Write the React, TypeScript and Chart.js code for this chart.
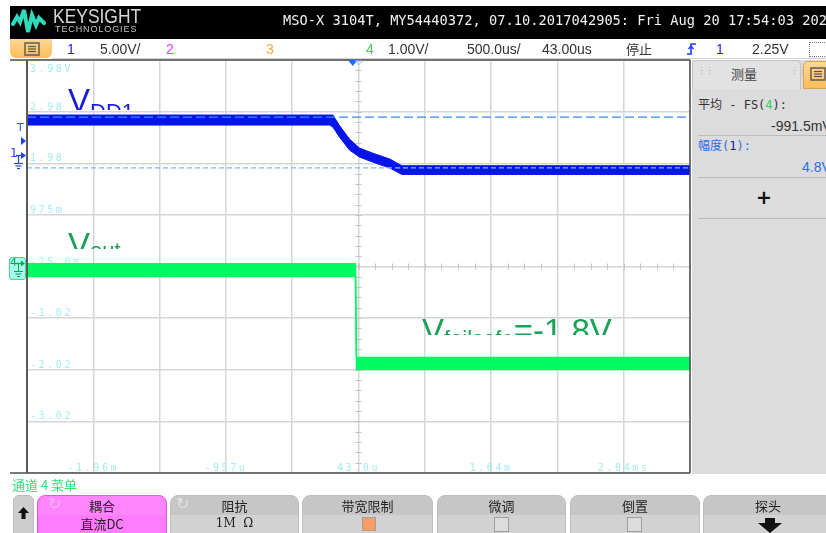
import React, { useEffect, useRef } from "react";
import { Chart, registerables } from "chart.js";

Chart.register(...registerables);

// ---- scope settings ----
const TIME_CENTER_US = 43;
const TIME_PER_DIV_US = 500;
const CH4_VOLTS_PER_DIV = 1;
const CH4_CENTER_V = -0.025;
const CH1_VOLTS_PER_DIV = 5;
const CH1_CENTER_V = -9.56;
const TRIGGER_TIME_US = 0;

// ---- channel 1 (VDD1) noise envelope, volts ----
const ch1Time = [-2457, -175, -150, -100, -25, 50, 150, 280, 370, 2543];
const ch1Upper = [5.11, 5.11, 5.11, 4.09, 2.78, 1.91, 1.42, 0.84, 0.2, 0.2];
const ch1Lower = [4.14, 4.14, 3.94, 2.97, 1.72, 1.04, 0.55, -0.03, -0.64, -0.64];

// ---- channel 4 (Vout) noise envelope, volts ----
const ch4Time = [-2457, 20, 28, 2543];
const ch4Upper = [0.03, 0.03, -1.79, -1.79];
const ch4Lower = [-0.22, -0.22, -2.02, -2.02];

// ---- amplitude measurement markers (ch1, volts) ----
const ch1MeasTop = [4.9];
const ch1MeasBase = [0];

// ---- on-screen tick labels ----
const yTickLabels = ["3.98V", "2.98", "1.98", "975m", "-25.0m", "-1.02", "-2.02", "-3.02"];
const xTickLabels = ["-1.96m", "-957u", "43.0u", "1.04m", "2.04ms"];

const X_MIN = TIME_CENTER_US - 5 * TIME_PER_DIV_US;
const X_MAX = TIME_CENTER_US + 5 * TIME_PER_DIV_US;
const Y_MIN = CH4_CENTER_V - 4 * CH4_VOLTS_PER_DIV;
const Y_MAX = CH4_CENTER_V + 4 * CH4_VOLTS_PER_DIV;
const Y1_MIN = CH1_CENTER_V - 4 * CH1_VOLTS_PER_DIV;
const Y1_MAX = CH1_CENTER_V + 4 * CH1_VOLTS_PER_DIV;

const BLUE = "#0514e8";
const GREEN = "#00fa64";
const LABEL_COLOR = "#a4eef0";
const GRID = "#d6d6d6";

const pts = (ts: number[], vs: number[]) => ts.map((t, i) => ({ x: t, y: vs[i] }));

const scopePlugin = {
  id: "scope",
  beforeDatasetsDraw(chart: any) {
    const { ctx, chartArea: a, scales } = chart;
    const xs = scales.x;
    const ys = scales.y;
    ctx.save();
    // minor ticks on centre axes
    const yc = ys.getPixelForValue(CH4_CENTER_V);
    const xc = xs.getPixelForValue(TIME_CENTER_US);
    ctx.strokeStyle = "#c2c2c2";
    ctx.lineWidth = 1;
    ctx.beginPath();
    for (let t = X_MIN; t <= X_MAX + 1; t += TIME_PER_DIV_US / 4) {
      const px = Math.round(xs.getPixelForValue(t)) + 0.5;
      ctx.moveTo(px, yc - 3);
      ctx.lineTo(px, yc + 3);
    }
    for (let v = Y_MIN; v <= Y_MAX + 0.01; v += CH4_VOLTS_PER_DIV / 5) {
      const py = Math.round(ys.getPixelForValue(v)) + 0.5;
      ctx.moveTo(xc - 3, py);
      ctx.lineTo(xc + 3, py);
    }
    ctx.stroke();
    // labels
    ctx.font = "10px 'DejaVu Sans Mono', monospace";
    (ctx as any).letterSpacing = "2.6px";
    ctx.fillStyle = LABEL_COLOR;
    ctx.textBaseline = "alphabetic";
    ctx.textAlign = "left";
    yTickLabels.forEach((lab, i) => {
      const py = ys.getPixelForValue(Y_MAX - i * CH4_VOLTS_PER_DIV);
      ctx.fillText(lab, a.left + 3, i === 0 ? py + 11.5 : py - 2);
    });
    ctx.textAlign = "center";
    xTickLabels.forEach((lab, i) => {
      const px = xs.getPixelForValue(X_MIN + (2 * i + 1) * TIME_PER_DIV_US);
      ctx.fillText(lab, px, a.bottom - 2);
    });
    ctx.restore();
  },
  afterDraw(chart: any) {
    const { ctx, chartArea: a, scales } = chart;
    const xs = scales.x;
    ctx.save();
    ctx.strokeStyle = "#4e4e4e";
    ctx.lineWidth = 1.5;
    ctx.beginPath();
    ctx.moveTo(a.left - 17, a.top);
    ctx.lineTo(a.right, a.top);
    ctx.moveTo(a.left - 17, a.bottom);
    ctx.lineTo(a.right, a.bottom);
    ctx.moveTo(a.right, a.top);
    ctx.lineTo(a.right, a.bottom);
    ctx.stroke();
    ctx.lineWidth = 2;
    ctx.strokeStyle = "#5a5a5a";
    ctx.beginPath();
    ctx.moveTo(a.left, a.top);
    ctx.lineTo(a.left, a.bottom);
    ctx.stroke();
    // trigger position marker
    const pt = xs.getPixelForValue(TRIGGER_TIME_US);
    ctx.fillStyle = "#1e6cff";
    ctx.beginPath();
    ctx.moveTo(pt - 5, a.top);
    ctx.lineTo(pt + 5, a.top);
    ctx.lineTo(pt, a.top + 6);
    ctx.closePath();
    ctx.fill();
    const pc = xs.getPixelForValue(TIME_CENTER_US);
    ctx.strokeStyle = "#9cc4ff";
    ctx.lineWidth = 1;
    ctx.beginPath();
    ctx.moveTo(pc - 3, a.top + 1);
    ctx.lineTo(pc + 4, a.top + 1);
    ctx.lineTo(pc, a.top + 5);
    ctx.closePath();
    ctx.stroke();
    ctx.restore();
  },
};

const cjk = "'Noto Sans CJK SC', sans-serif";
const narrow = "'Liberation Sans Narrow', 'Liberation Sans', Arial, sans-serif";

function BigLabel(props: {
  left: number; top: number; height: number; color: string;
  main: string; sub: string; shift: number; suffix?: string;
}) {
  return (
    <div
      style={{
        position: "absolute", left: props.left, top: props.top, height: props.height,
        overflow: "hidden", whiteSpace: "nowrap", color: props.color,
        fontFamily: "'Liberation Sans', Arial, sans-serif", fontSize: 33, lineHeight: "33px",
      }}
    >
      {props.main}
      <span style={{ fontSize: 22, position: "relative", top: props.shift }}>{props.sub}</span>
      {props.suffix}
    </div>
  );
}

function MenuIcon(props: { left: number; top: number }) {
  return (
    <svg style={{ position: "absolute", left: props.left, top: props.top }} width={16} height={14}>
      <rect x={1} y={1} width={14} height={12} fill="none" stroke="#555" strokeWidth={1.4} />
      <line x1={4} y1={4.5} x2={12} y2={4.5} stroke="#555" strokeWidth={1.2} />
      <line x1={4} y1={7} x2={12} y2={7} stroke="#555" strokeWidth={1.2} />
      <line x1={4} y1={9.5} x2={12} y2={9.5} stroke="#555" strokeWidth={1.2} />
    </svg>
  );
}

function SoftButton(props: { left: number; width: number; label: string; magenta?: boolean; children?: any }) {
  const bg = props.magenta
    ? "linear-gradient(#ff86ff 0%, #ff86ff 45%, #ff7cff 45%, #ff7cff 100%)"
    : "linear-gradient(#c6c6c6 0%, #c6c6c6 45%, #d2d2d2 45%, #d2d2d2 100%)";
  return (
    <div
      style={{
        position: "absolute", left: props.left, top: 495, width: props.width, height: 44,
        background: bg, borderRadius: "8px 8px 0 0",
        border: props.magenta ? "1px solid #e454e4" : "1px solid #bdbdbd",
        boxSizing: "border-box",
      }}
    >
      <div style={{ position: "absolute", left: 0, right: 0, top: 1, textAlign: "center", fontFamily: cjk, fontSize: 13, lineHeight: "17px", color: "#222" }}>
        {props.label}
      </div>
      {props.children}
    </div>
  );
}

export default function App() {
  const ref = useRef<HTMLCanvasElement>(null);

  useEffect(() => {
    const chart = new Chart(ref.current as HTMLCanvasElement, {
      type: "line",
      data: {
        datasets: [
          { label: "ch1 upper", data: pts(ch1Time, ch1Upper), yAxisID: "y1", borderColor: BLUE, borderWidth: 1, pointRadius: 0, fill: false, tension: 0, order: 2 },
          { label: "ch1 lower", data: pts(ch1Time, ch1Lower), yAxisID: "y1", borderColor: BLUE, backgroundColor: BLUE, borderWidth: 1, pointRadius: 0, fill: "-1", tension: 0, order: 2 },
          { label: "ch4 upper", data: pts(ch4Time, ch4Upper), yAxisID: "y", borderColor: GREEN, borderWidth: 1.5, pointRadius: 0, fill: false, tension: 0, order: 2 },
          { label: "ch4 lower", data: pts(ch4Time, ch4Lower), yAxisID: "y", borderColor: GREEN, backgroundColor: GREEN, borderWidth: 1.5, pointRadius: 0, fill: "-1", tension: 0, order: 2 },
          { label: "top", data: [{ x: X_MIN, y: ch1MeasTop[0] }, { x: X_MAX, y: ch1MeasTop[0] }], yAxisID: "y1", borderColor: "#3a86ff", borderWidth: 1.2, borderDash: [9, 4], pointRadius: 0, fill: false, order: 0 },
          { label: "base", data: [{ x: X_MIN, y: ch1MeasBase[0] }, { x: X_MAX, y: ch1MeasBase[0] }], yAxisID: "y1", borderColor: "#86b4ff", borderWidth: 1.2, borderDash: [5, 3], pointRadius: 0, fill: false, order: 0 },
        ],
      },
      options: {
        animation: false,
        responsive: false,
        layout: { padding: { left: 27, top: 60, right: 136, bottom: 60 } },
        plugins: { legend: { display: false }, tooltip: { enabled: false } },
        scales: {
          x: {
            type: "linear", min: X_MIN, max: X_MAX,
            afterBuildTicks: (s: any) => {
              s.ticks = Array.from({ length: 11 }, (_, i) => ({ value: X_MIN + i * TIME_PER_DIV_US }));
            },
            ticks: { display: false },
            grid: { color: GRID, lineWidth: 1.5, drawTicks: false },
            border: { display: false },
          },
          y: {
            type: "linear", min: Y_MIN, max: Y_MAX,
            afterBuildTicks: (s: any) => {
              s.ticks = Array.from({ length: 9 }, (_, i) => ({ value: Y_MIN + i * CH4_VOLTS_PER_DIV }));
            },
            ticks: { display: false },
            grid: { color: GRID, lineWidth: 1.5, drawTicks: false },
            border: { display: false },
          },
          y1: { type: "linear", min: Y1_MIN, max: Y1_MAX, display: false },
        },
      } as any,
      plugins: [scopePlugin],
    });
    return () => chart.destroy();
  }, []);

  const statusItems: { x: number; t: string; c: string; f?: string }[] = [
    { x: 67, t: "1", c: "#1a1aff" },
    { x: 100, t: "5.00V/", c: "#333" },
    { x: 166, t: "2", c: "#e040ff" },
    { x: 266, t: "3", c: "#e8a848" },
    { x: 366, t: "4", c: "#30d060" },
    { x: 388, t: "1.00V/", c: "#333" },
    { x: 467, t: "500.0us/", c: "#333" },
    { x: 542, t: "43.00us", c: "#333" },
    { x: 626, t: "停止", c: "#333", f: cjk },
    { x: 716, t: "1", c: "#1a1aff" },
    { x: 752, t: "2.25V", c: "#333" },
  ];

  return (
    <div style={{ position: "fixed", left: 0, top: 0, width: 826, height: 533, overflow: "hidden", background: "#fff" }}>
      <canvas ref={ref} width={826} height={533} style={{ position: "absolute", left: 0, top: 0, width: 826, height: 533 }} />

      {/* header */}
      <div style={{ position: "absolute", left: 10, top: 6, width: 816, height: 33, background: "#000" }} />
      <svg style={{ position: "absolute", left: 11, top: 7 }} width={38} height={28}>
        <polyline points="2,17 6,10 9,15 13,3 17,25 21,8 25,18 28,11 33,16" fill="none" stroke="#2ddcbc" strokeWidth={4} strokeLinejoin="miter" strokeLinecap="round" />
      </svg>
      <div style={{ position: "absolute", left: 53, top: 5, fontFamily: "'Liberation Sans', Arial, sans-serif", fontSize: 21, lineHeight: "21px", color: "#d6d6d6", transform: "scaleX(0.83)", transformOrigin: "left top", whiteSpace: "nowrap" }}>
        KEYSIGHT
      </div>
      <div style={{ position: "absolute", left: 55, top: 24, fontFamily: "'Liberation Sans', Arial, sans-serif", fontSize: 9, lineHeight: "10px", color: "#c4c4c4", letterSpacing: 0.9, whiteSpace: "nowrap" }}>
        TECHNOLOGIES
      </div>
      <div style={{ position: "absolute", left: 283, top: 12, fontFamily: "'DejaVu Sans Mono', monospace", fontSize: 13.7, lineHeight: "16px", color: "#f2f2f2", whiteSpace: "nowrap" }}>
        MSO-X 3104T, MY54440372, 07.10.2017042905: Fri Aug 20 17:54:03 2021
      </div>

      {/* status row */}
      <div style={{ position: "absolute", left: 10, top: 39, width: 42, height: 19, background: "linear-gradient(#ffd894, #ffbd5a)", borderRadius: "0 0 6px 6px" }} />
      <MenuIcon left={24} top={42} />
      {statusItems.map((s, i) => (
        <div key={i} style={{ position: "absolute", left: s.x, top: 40, fontFamily: s.f || narrow, fontSize: s.f ? 13 : 14, lineHeight: "18px", color: s.c, whiteSpace: "nowrap" }}>
          {s.t}
        </div>
      ))}
      <svg style={{ position: "absolute", left: 686, top: 41 }} width={12} height={16}>
        <polyline points="1,13 5,13 5,3 10,3" fill="none" stroke="#1a3cff" strokeWidth={1.6} />
        <polyline points="2.5,8 5,5 7.5,8" fill="none" stroke="#1a3cff" strokeWidth={1.4} />
      </svg>
      <div style={{ position: "absolute", left: 809, top: 42, width: 20, height: 13, border: "1px dotted #777" }} />
      <div style={{ position: "absolute", left: 52, top: 58, width: 774, height: 1, background: "#d4d4d4" }} />

      {/* left channel markers */}
      <div style={{ position: "absolute", left: 17, top: 121, fontFamily: "'DejaVu Sans', sans-serif", fontSize: 11, color: "#2a58ff" }}>T</div>
      <svg style={{ position: "absolute", left: 0, top: 100 }} width={27} height={80}>
        <polygon points="21,37 26,41 21,45" fill="#1a44ff" />
        <line x1={16} y1={55.5} x2={22} y2={55.5} stroke="#2244ee" strokeWidth={1.3} />
        <polygon points="21,52 26,55.5 21,59" fill="#2244ee" />
        <line x1={18.5} y1={55} x2={18.5} y2={63} stroke="#2244ee" strokeWidth={1.2} />
        <line x1={14} y1={63.5} x2={23} y2={63.5} stroke="#2244ee" strokeWidth={1.2} />
        <line x1={15.5} y1={66} x2={21.5} y2={66} stroke="#2244ee" strokeWidth={1.2} />
        <line x1={17} y1={68.5} x2={20} y2={68.5} stroke="#2244ee" strokeWidth={1.2} />
      </svg>
      <div style={{ position: "absolute", left: 10, top: 147, fontFamily: "'DejaVu Sans', sans-serif", fontSize: 12, lineHeight: "13px", color: "#2244ee" }}>1</div>

      <div style={{ position: "absolute", left: 9, top: 257, width: 17, height: 23, background: "#a6fff0", border: "1px solid #3de07a", borderRadius: 3, boxSizing: "border-box" }} />
      <svg style={{ position: "absolute", left: 9, top: 257 }} width={18} height={24}>
        <line x1={7} y1={6.5} x2={13} y2={6.5} stroke="#1c9c52" strokeWidth={1.3} />
        <polygon points="12,3.5 16,6.5 12,9.5" fill="#1c9c52" />
        <line x1={9.5} y1={7} x2={9.5} y2={14} stroke="#1c9c52" strokeWidth={1.1} />
        <line x1={5} y1={14.5} x2={14} y2={14.5} stroke="#1c9c52" strokeWidth={1.1} />
        <line x1={6.5} y1={17} x2={12.5} y2={17} stroke="#1c9c52" strokeWidth={1.1} />
        <line x1={8} y1={19.5} x2={11} y2={19.5} stroke="#1c9c52" strokeWidth={1.1} />
      </svg>
      <div style={{ position: "absolute", left: 10, top: 256, fontFamily: "'DejaVu Sans', sans-serif", fontSize: 11, lineHeight: "13px", color: "#1c9c52" }}>4</div>

      {/* annotation texts */}
      <BigLabel left={68} top={83.7} height={26.3} color="#1a1ad8" main="V" sub="DD1" shift={7} />
      <BigLabel left={68} top={227.7} height={21.3} color="#17a257" main="V" sub="out" shift={2} />
      <BigLabel left={422} top={313.7} height={21.3} color="#17a257" main="V" sub="failsafe" shift={4.3} suffix="=-1.8V" />

      {/* right measurement panel */}
      <div style={{ position: "absolute", left: 692, top: 60, width: 134, height: 414, background: "#dcdcdc" }} />
      <div style={{ position: "absolute", left: 692, top: 60, width: 109, height: 29, background: "#e2e2e2", border: "1px solid #c2c2c2", borderBottom: "none", borderRadius: "5px 5px 0 0", boxSizing: "border-box" }} />
      <div style={{ position: "absolute", left: 697, top: 67, fontSize: 9, lineHeight: "9px", color: "#a8a8a8", letterSpacing: -1 }}>⋮⋮</div>
      <div style={{ position: "absolute", left: 790, top: 67, fontSize: 9, lineHeight: "9px", color: "#a8a8a8", letterSpacing: -1 }}>⋮⋮</div>
      <div style={{ position: "absolute", left: 731, top: 65, fontFamily: cjk, fontSize: 13, lineHeight: "18px", color: "#444" }}>测量</div>
      <div style={{ position: "absolute", left: 803, top: 61, width: 25, height: 28, background: "linear-gradient(#ffd894, #ffbd5a)", borderRadius: "5px 0 0 0", border: "1px solid #d9a050", boxSizing: "border-box" }} />
      <MenuIcon left={810} top={67} />
      <div style={{ position: "absolute", left: 698, top: 96, fontFamily: "'DejaVu Sans Mono', " + cjk, fontSize: 12, lineHeight: "18px", color: "#333", whiteSpace: "nowrap" }}>
        平均 - FS(<span style={{ color: "#30d060" }}>4</span>):
      </div>
      <div style={{ position: "absolute", left: 771, top: 117, fontFamily: "'Liberation Sans', Arial, sans-serif", fontSize: 14, lineHeight: "18px", color: "#333", whiteSpace: "nowrap" }}>-991.5mV</div>
      <div style={{ position: "absolute", left: 698, top: 135, width: 128, height: 1, background: "#bcbcbc" }} />
      <div style={{ position: "absolute", left: 698, top: 137, fontFamily: "'DejaVu Sans Mono', " + cjk, fontSize: 12, lineHeight: "18px", color: "#2a6ee8", whiteSpace: "nowrap" }}>
        幅度(<span style={{ color: "#1414c8" }}>1</span>):
      </div>
      <div style={{ position: "absolute", left: 802, top: 158, fontFamily: "'Liberation Sans', Arial, sans-serif", fontSize: 14, lineHeight: "18px", color: "#2a6ee8", whiteSpace: "nowrap" }}>4.8V</div>
      <div style={{ position: "absolute", left: 698, top: 177, width: 128, height: 1, background: "#bcbcbc" }} />
      <div style={{ position: "absolute", left: 756, top: 186, fontFamily: "'DejaVu Sans', sans-serif", fontSize: 19, fontWeight: "bold", lineHeight: "22px", color: "#111" }}>+</div>
      <div style={{ position: "absolute", left: 698, top: 218, width: 128, height: 1, background: "#bcbcbc" }} />

      {/* bottom menu */}
      <div style={{ position: "absolute", left: 12, top: 476, fontFamily: cjk, fontSize: 13, lineHeight: "17px", color: "#33e07a", whiteSpace: "nowrap" }}>
        通道 4 菜单
      </div>
      <div style={{ position: "absolute", left: 13, top: 495, width: 21, height: 44, background: "#cdcdcd", border: "1px solid #bbb", borderRadius: "6px 6px 0 0", boxSizing: "border-box" }} />
      <svg style={{ position: "absolute", left: 16, top: 506 }} width={15} height={14}>
        <polygon points="7.5,1 13,7 9.5,7 9.5,13 5.5,13 5.5,7 2,7" fill="#111" />
      </svg>
      <SoftButton left={37} width={130} label="耦合" magenta>
        <div style={{ position: "absolute", left: 0, right: 0, top: 19, textAlign: "center", fontFamily: cjk, fontSize: 13, lineHeight: "17px", color: "#222" }}>直流DC</div>
        <div style={{ position: "absolute", left: 10, top: -2, fontSize: 16, color: "#ffb4ff" }}>↻</div>
      </SoftButton>
      <SoftButton left={170} width={129} label="阻抗">
        <div style={{ position: "absolute", left: 0, right: 0, top: 19, textAlign: "center", fontFamily: "'DejaVu Serif', serif", fontSize: 12, lineHeight: "17px", color: "#222" }}>1M&nbsp;&nbsp;Ω</div>
        <div style={{ position: "absolute", left: 5, top: -2, fontSize: 16, color: "#e2e2e2" }}>↻</div>
      </SoftButton>
      <SoftButton left={302} width={131} label="带宽限制">
        <div style={{ position: "absolute", left: 59, top: 21, width: 14, height: 14, background: "#ff9c64", border: "1px solid #a0a0a0", boxSizing: "border-box" }} />
      </SoftButton>
      <SoftButton left={437} width={129} label="微调">
        <div style={{ position: "absolute", left: 56, top: 21, width: 15, height: 15, background: "#dcdcdc", border: "1px solid #a0a0a0", boxSizing: "border-box" }} />
      </SoftButton>
      <SoftButton left={570} width={130} label="倒置">
        <div style={{ position: "absolute", left: 56, top: 21, width: 15, height: 15, background: "#dcdcdc", border: "1px solid #a0a0a0", boxSizing: "border-box" }} />
      </SoftButton>
      <SoftButton left={703} width={130} label="探头">
        <svg style={{ position: "absolute", left: 53, top: 22 }} width={26} height={16}>
          <polygon points="8,0 18,0 18,5 25,5 13,15 1,5 8,5" fill="#111" />
        </svg>
      </SoftButton>
    </div>
  );
}
